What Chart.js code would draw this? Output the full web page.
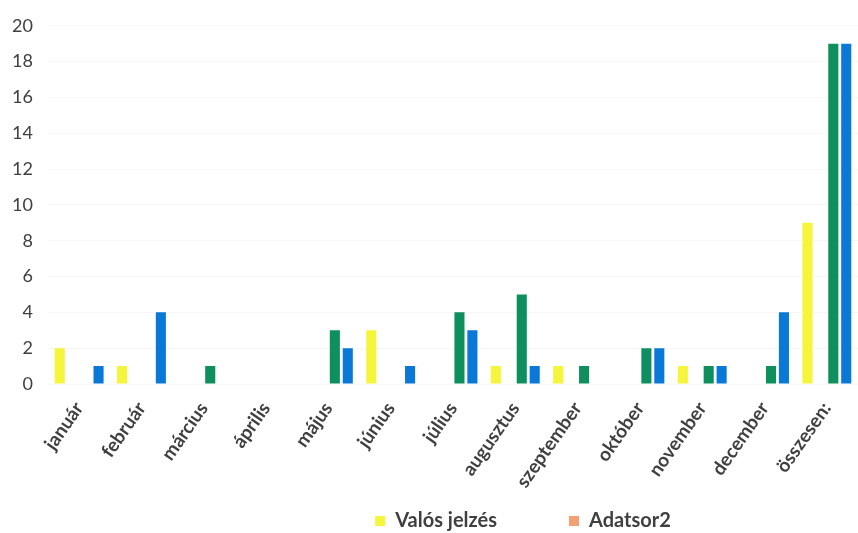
<!DOCTYPE html>
<html>
<head>
<meta charset="utf-8">
<script src="https://cdn.jsdelivr.net/npm/chart.js@4"></script>
<style>
  html, body { margin: 0; padding: 0; background: #fff; }
  #wrap { width: 858px; height: 533px; }
</style>
</head>
<body>
<div id="wrap"><canvas id="chart"></canvas></div>
<script>
const categories = ['január', 'február', 'március', 'április', 'május', 'június', 'július',
  'augusztus', 'szeptember', 'október', 'november', 'december', 'összesen:'];
const valosJelzes = [2, 1, 0, 0, 0, 3, 0, 1, 1, 0, 1, 0, 9];
const adatsor2    = [0, 0, 0, 0, 0, 0, 0, 0, 0, 0, 0, 0, 0];
const adatsor3    = [0, 0, 1, 0, 3, 0, 4, 5, 1, 2, 1, 1, 19];
const adatsor4    = [1, 4, 0, 0, 2, 1, 3, 1, 0, 2, 1, 4, 19];
const yTicks = [0, 2, 4, 6, 8, 10, 12, 14, 16, 18, 20];

const textColor = '#404040';

// legend sits right of centre in the original; x labels may run into the legend box
const layoutTweaks = {
  id: 'layoutTweaks',
  afterLayout(chart) {
    const lg = chart.legend;
    if (lg) {
      lg.left += 92;
      lg.right += 92;
    }
    const x = chart.scales.x;
    x.bottom = chart.height;
  }
};

new Chart(document.getElementById('chart').getContext('2d'), {
  type: 'bar',
  data: {
    labels: categories,
    datasets: [
      { label: 'Valós jelzés', data: valosJelzes, backgroundColor: '#F5F53C' },
      { label: 'Adatsor2', data: adatsor2, backgroundColor: '#F4A072' },
      { label: 'Adatsor3', data: adatsor3, backgroundColor: '#0E8F5E' },
      { label: 'Adatsor4', data: adatsor4, backgroundColor: '#0A78D6' }
    ]
  },
  options: {
    responsive: true,
    maintainAspectRatio: false,
    animation: false,
    layout: { padding: { top: 14, left: 4, right: 0, bottom: 0 } },
    datasets: {
      bar: { barPercentage: 0.78, categoryPercentage: 0.83 }
    },
    scales: {
      x: {
        grid: { display: false },
        border: { display: false },
        afterFit: scale => { scale.height = 55; },
        ticks: {
          color: textColor,
          font: { family: 'Lato', size: 19, weight: 'bold' },
          minRotation: 55,
          maxRotation: 55,
          padding: 6,
          autoSkip: false
        }
      },
      y: {
        min: 0,
        max: 20,
        afterBuildTicks: axis => { axis.ticks = yTicks.map(v => ({ value: v })); },
        afterFit: scale => { scale.width = 44; },
        grid: { color: 'rgba(0,0,0,0.03)', drawTicks: false },
        border: { display: false },
        ticks: {
          color: textColor,
          font: { family: 'Lato', size: 18 },
          padding: 15
        }
      }
    },
    plugins: {
      tooltip: { enabled: false },
      legend: {
        position: 'bottom',
        maxHeight: 94,
        labels: {
          color: textColor,
          font: { family: 'Lato', size: 20, weight: 'bold' },
          boxWidth: 10,
          boxHeight: 10,
          padding: 72,
          filter: item => item.datasetIndex < 2
        }
      }
    }
  },
  plugins: [layoutTweaks]
});
</script>
</body>
</html>
